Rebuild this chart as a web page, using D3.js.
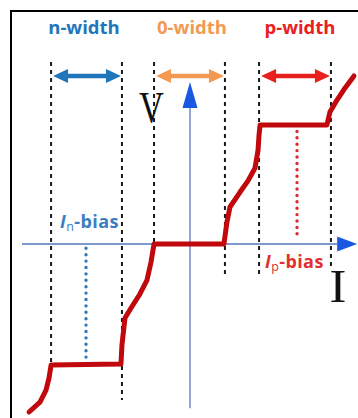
<!DOCTYPE html>
<html>
<head>
<meta charset="utf-8">
<script src="https://cdn.jsdelivr.net/npm/d3@7"></script>
<style>
  html, body { margin: 0; padding: 0; background: #fff; }
  svg { display: block; }
</style>
</head>
<body>
<svg id="chart" width="358" height="418"></svg>
<script>
// Conduction windows along the current axis (I units): [start, end]
const windowNames = ["n-width", "0-width", "p-width"];
const windowEdges = [[-8.27, -4.05], [-2.14, 2.08], [4.11, 8.39]];
const windowColors = ["#1f76bb", "#f29a52", "#e8201e"];

// Lower end (V units) of each dashed boundary line, same order as the edges
const edgeBottoms = [[-7.23, -9.4], [0, -2.05], [-2.05, -1.57]];

// Measured V–I characteristic (I, V)
const curveI = [-9.58, -8.93, -8.57, -8.39, -8.27, -4.11, -4.05, -3.87, -3.51, -2.98, -2.56, -2.32, -2.14,
                2.02, 2.20, 2.38, 2.98, 3.45, 3.87, 4.05, 4.11, 4.17, 8.15, 8.33, 8.75, 9.23, 9.76];
const curveV = [-10.12, -9.52, -8.80, -8.07, -7.29, -7.23, -6.08, -4.46, -3.86, -3.01, -2.17, -1.08, 0,
                0, 1.33, 2.23, 3.13, 3.80, 4.58, 5.66, 6.57, 7.17, 7.17, 7.95, 8.67, 9.40, 10.12];

// Bias points: current position and plateau voltage
const biasNames = ["n", "p"];
const biasI = [-6.19, 6.37];
const biasV = [-7.2, 7.17];
const biasColors = ["#2f78b8", "#e3262b"];

const svg = d3.select("#chart");
const x = d3.scaleLinear().domain([-10, 10]).range([22, 358]);
const y = d3.scaleLinear().domain([-10, 10]).range([410, 78]);

// Frame
svg.append("line").attr("x1", 10).attr("y1", 11).attr("x2", 358).attr("y2", 11)
  .attr("stroke", "#000").attr("stroke-width", 2);
svg.append("line").attr("x1", 11).attr("y1", 10).attr("x2", 11).attr("y2", 418)
  .attr("stroke", "#000").attr("stroke-width", 2);

// Dashed window boundaries
const guideTop = 10.96;
windowEdges.forEach((edges, i) => {
  edges.forEach((e, j) => {
    svg.append("line")
      .attr("x1", x(e)).attr("x2", x(e))
      .attr("y1", y(guideTop)).attr("y2", y(edgeBottoms[i][j]))
      .attr("stroke", "#1a1a1a").attr("stroke-width", 2)
      .attr("stroke-dasharray", "4,4");
  });
});

// Axes
const axisColor = "#7f98cb";
const arrowBlue = "#1b58e2";
svg.append("line")
  .attr("x1", x(-10)).attr("x2", x(8.76))
  .attr("y1", y(0)).attr("y2", y(0))
  .attr("stroke", axisColor).attr("stroke-width", 2);
svg.append("path")
  .attr("d", `M${x(8.76)},${y(0) - 7.5}L${x(9.95)},${y(0)}L${x(8.76)},${y(0) + 7.5}Z`)
  .attr("fill", arrowBlue);
svg.append("line")
  .attr("x1", x(0)).attr("x2", x(0))
  .attr("y1", y(-9.9)).attr("y2", y(8.2))
  .attr("stroke", "#93a6d2").attr("stroke-width", 2);
svg.append("path")
  .attr("d", `M${x(0) - 7.5},${y(8.2)}L${x(0)},${y(9.76)}L${x(0) + 7.5},${y(8.2)}Z`)
  .attr("fill", arrowBlue);

// Axis symbols
svg.append("text").text("V")
  .attr("transform", `translate(${x(-2.3)},${y(7.35)}) scale(0.78,1)`)
  .attr("text-anchor", "middle")
  .attr("font-family", "'Liberation Serif', 'DejaVu Serif', serif")
  .attr("font-size", 44).attr("fill", "#111");
svg.append("text").text("I")
  .attr("transform", `translate(${x(8.8)},${y(-3.47)}) scale(1.1,1)`)
  .attr("text-anchor", "middle")
  .attr("font-family", "'Liberation Serif', 'DejaVu Serif', serif")
  .attr("font-size", 46).attr("fill", "#111");

// Bias dotted lines
biasI.forEach((b, i) => {
  const v0 = biasV[i] > 0 ? 0.25 : -0.1;
  svg.append("line")
    .attr("x1", x(b)).attr("x2", x(b))
    .attr("y1", y(biasV[i])).attr("y2", y(v0))
    .attr("stroke", biasColors[i]).attr("stroke-width", 3.4)
    .attr("stroke-linecap", "round")
    .attr("stroke-dasharray", "0,6.4");
});

// V–I curve
const pts = curveI.map((d, i) => [d, curveV[i]]);
svg.append("path")
  .datum(pts)
  .attr("d", d3.line().x(d => x(d[0])).y(d => y(d[1])).curve(d3.curveLinear))
  .attr("fill", "none").attr("stroke", "#c1080c").attr("stroke-width", 5)
  .attr("stroke-linejoin", "round").attr("stroke-linecap", "round");

// Width arrows and titles
const arrowV = 10.12;
const titleDx = [-2.5, 2.5, 5];
windowEdges.forEach((edges, i) => {
  const x0 = x(edges[0]) + 2, x1 = x(edges[1]) - 1, yc = y(arrowV);
  const head = 15, hw = 7, sw = 2.2;
  svg.append("path")
    .attr("d", `M${x0},${yc}L${x0 + head},${yc - hw}L${x0 + head},${yc - sw}L${x1 - head},${yc - sw}` +
               `L${x1 - head},${yc - hw}L${x1},${yc}L${x1 - head},${yc + hw}L${x1 - head},${yc + sw}` +
               `L${x0 + head},${yc + sw}L${x0 + head},${yc + hw}Z`)
    .attr("fill", windowColors[i]);
  svg.append("text").text(windowNames[i])
    .attr("x", (x(edges[0]) + x(edges[1])) / 2 + titleDx[i])
    .attr("y", 34)
    .attr("text-anchor", "middle")
    .attr("font-family", "'Open Sans', 'DejaVu Sans', sans-serif")
    .attr("font-weight", "bold").attr("font-size", 18.5)
    .attr("fill", windowColors[i]);
});

// Bias labels
const biasLabelPos = [[60, 228], [265, 268]];
const biasLabelColors = ["#3b7ec0", "#e0302c"];
biasNames.forEach((n, i) => {
  const t = svg.append("text")
    .attr("x", biasLabelPos[i][0]).attr("y", biasLabelPos[i][1])
    .attr("font-family", "'Open Sans', 'DejaVu Sans', sans-serif")
    .attr("font-weight", "bold").attr("font-size", 18)
    .attr("letter-spacing", 0.4)
    .attr("fill", biasLabelColors[i]);
  t.append("tspan").text("I").attr("font-style", "italic");
  t.append("tspan").text(n).attr("font-size", 12.5).attr("font-weight", "normal").attr("dy", 3);
  t.append("tspan").text("-bias").attr("dy", -3);
});
</script>
</body>
</html>
